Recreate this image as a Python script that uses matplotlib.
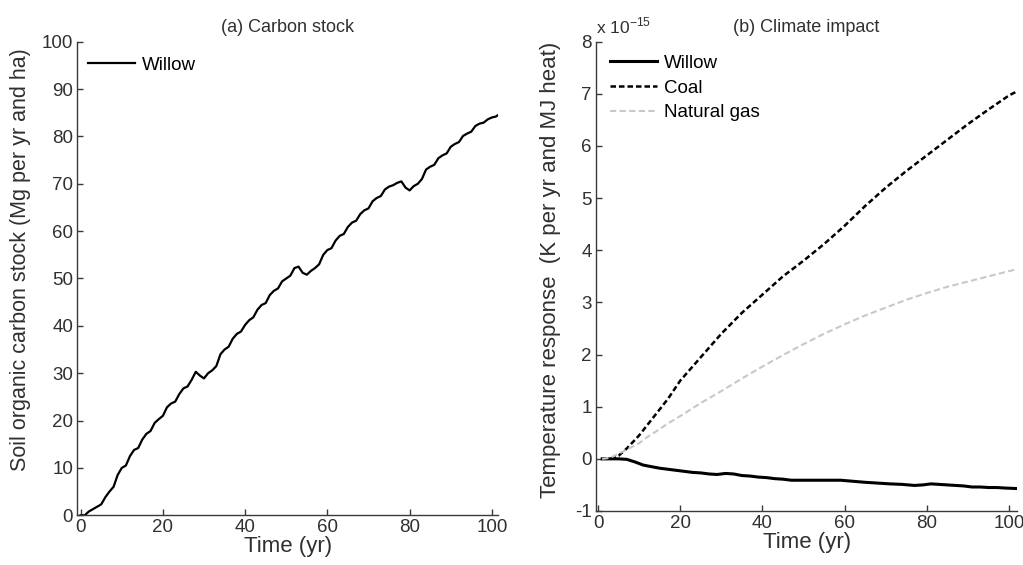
import matplotlib
matplotlib.use("Agg")
import matplotlib.pyplot as plt

# ---------------- data ----------------
# (a) Carbon stock, willow (Mg per yr and ha), yearly 0..102
years_a = list(range(0, 103))
willow_soc = [0, 0, 0.8, 1.3, 1.8, 2.3, 3.8, 5.0, 6.0, 8.5,
              10.0, 10.5, 12.5, 13.8, 14.2, 16.0, 17.2, 17.8, 19.5, 20.3,
              21.0, 22.8, 23.6, 24.0, 25.6, 26.8, 27.2, 28.6, 30.3, 29.5,
              28.9, 30.0, 30.6, 31.5, 34.0, 35.0, 35.6, 37.3, 38.3, 38.8,
              40.2, 41.2, 41.8, 43.4, 44.4, 44.8, 46.5, 47.4, 47.9, 49.4,
              50.0, 50.6, 52.2, 52.5, 51.2, 50.8, 51.6, 52.2, 53.0, 55.0,
              56.0, 56.4, 58.0, 59.0, 59.4, 60.9, 61.8, 62.2, 63.6, 64.4,
              64.8, 66.3, 67.0, 67.4, 68.8, 69.4, 69.7, 70.2, 70.5, 69.2,
              68.6, 69.5, 70.0, 71.0, 73.0, 73.6, 74.0, 75.4, 76.0, 76.4,
              77.8, 78.4, 78.8, 80.1, 80.6, 81.0, 82.2, 82.7, 82.9, 83.6,
              84.0, 84.2, 84.8]

# (b) Climate impact (x 1e-15 K per yr and MJ heat)
years_willow = [1, 3, 5, 7, 9, 11, 13, 15, 17, 19, 21, 23, 25, 27, 29, 31, 33,
                35, 37, 39, 41, 43, 45, 47, 50, 53, 56, 59, 62, 65, 67, 69, 71,
                74, 77, 79, 81, 83, 85, 87, 89, 91, 93, 95, 97, 99, 102]
willow_temp = [0.0, 0.0, 0.0, -0.01, -0.06, -0.12, -0.15, -0.18, -0.2, -0.22,
               -0.24, -0.26, -0.27, -0.29, -0.3, -0.28, -0.29, -0.32, -0.33,
               -0.35, -0.36, -0.38, -0.39, -0.41, -0.41, -0.41, -0.41, -0.41,
               -0.43, -0.45, -0.46, -0.47, -0.48, -0.49, -0.51, -0.5, -0.48,
               -0.49, -0.5, -0.51, -0.52, -0.54, -0.54, -0.55, -0.55, -0.56,
               -0.57]

years_fossil = [1, 3, 5, 7, 10, 12, 15, 17, 20, 25, 30, 35, 40, 45, 50, 55, 60,
                65, 70, 75, 80, 85, 90, 95, 100, 102]
coal_temp = [0.0, 0.0, 0.06, 0.2, 0.45, 0.65, 0.95, 1.15, 1.5, 1.95, 2.4, 2.8,
             3.15, 3.5, 3.8, 4.12, 4.47, 4.85, 5.2, 5.52, 5.82, 6.12, 6.42,
             6.7, 6.97, 7.05]
gas_temp = [0.0, 0.02, 0.1, 0.18, 0.3, 0.42, 0.57, 0.68, 0.82, 1.07, 1.3, 1.54,
            1.77, 1.99, 2.2, 2.4, 2.58, 2.75, 2.9, 3.05, 3.18, 3.3, 3.4, 3.5,
            3.6, 3.64]

xticks = [0, 20, 40, 60, 80, 100]
yticks_a = [0, 10, 20, 30, 40, 50, 60, 70, 80, 90, 100]
yticks_b = [-1, 0, 1, 2, 3, 4, 5, 6, 7, 8]

# ---------------- style ----------------
plt.rcParams['font.family'] = ['Liberation Sans', 'DejaVu Sans']
plt.rcParams['axes.unicode_minus'] = False
axc = '#3a3a3a'
txtc = '#303030'

fig = plt.figure(figsize=(10.23, 5.65), dpi=100)
axA = fig.add_axes([0.0756, 0.0880, 0.4112, 0.8382])
axB = fig.add_axes([0.5826, 0.0956, 0.4118, 0.8306])

for ax in (axA, axB):
    for s in ('top', 'right'):
        ax.spines[s].set_visible(False)
    for s in ('left', 'bottom'):
        ax.spines[s].set_color(axc)
        ax.spines[s].set_linewidth(1.0)
    ax.tick_params(direction='in', length=4, width=1.0, colors=axc,
                   labelcolor=txtc, labelsize=13.5, pad=3)
    ax.set_xticks(xticks)
    ax.set_xlabel('Time (yr)', fontsize=16, color=txtc, labelpad=0)

# (a)
axA.plot(years_a, willow_soc, color='black', lw=1.6, label='Willow')
axA.set_xlim(-0.8, 101.5)
axA.set_ylim(0, 100)
axA.set_yticks(yticks_a)
axA.set_ylabel('Soil organic carbon stock (Mg per yr and ha)', fontsize=15.5,
               color=txtc)
axA.yaxis.set_label_coords(-0.11, 0.539)
axA.set_title('(a) Carbon stock', fontsize=13, color=txtc, pad=7)
axA.legend(loc='upper left', bbox_to_anchor=(0.025, 0.968), frameon=False,
           fontsize=13.5, borderpad=0, borderaxespad=0, handlelength=2.5,
           handletextpad=0.4)

# (b)
axB.plot(years_willow, willow_temp, color='black', lw=2.2, label='Willow')
axB.plot(years_fossil, coal_temp, color='black', lw=1.8, ls=(0, (2.2, 1.2)),
         label='Coal')
axB.plot(years_fossil, gas_temp, color='#c8c8c8', lw=1.5, ls=(0, (3, 1.6)),
         label='Natural gas')
axB.set_xlim(-0.5, 102)
axB.set_ylim(-1, 8)
axB.set_yticks(yticks_b)
axB.set_ylabel('Temperature response  (K per yr and MJ heat)', fontsize=16,
               color=txtc)
axB.yaxis.set_label_coords(-0.082, 0.5135)
axB.set_title('(b) Climate impact', fontsize=13, color=txtc, pad=7)
axB.text(0.0, 1.012, r'x 10$^{\mathregular{-15}}$', transform=axB.transAxes,
         fontsize=12.5, color=txtc, ha='left', va='bottom')
axB.legend(loc='upper left', bbox_to_anchor=(0.033, 0.972), frameon=False,
           fontsize=13.5, borderpad=0, borderaxespad=0, handlelength=2.5,
           handletextpad=0.4, labelspacing=0.4)

fig.savefig('out.png', dpi=100)
